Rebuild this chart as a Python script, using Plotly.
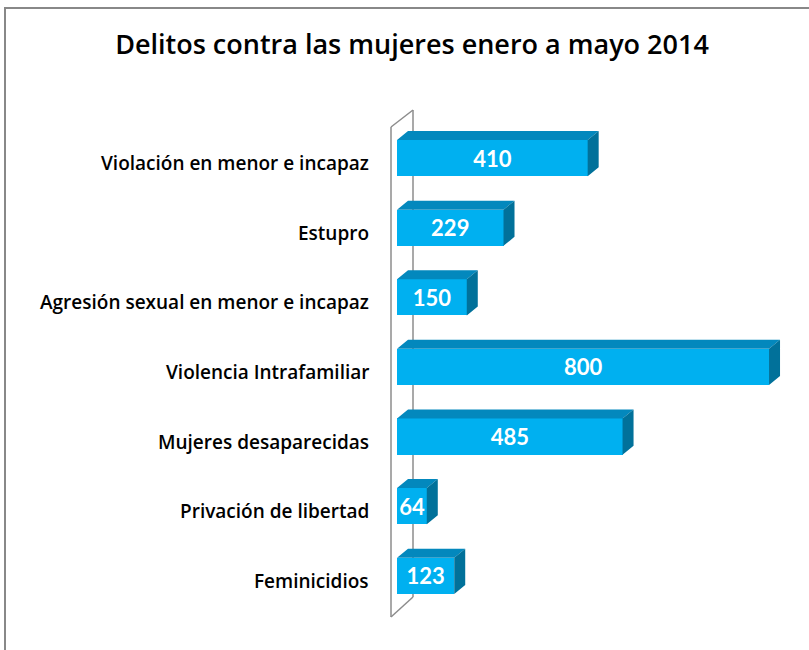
import plotly.graph_objects as go

# ---- data ----
categories = ["Feminicidios", "Privación de libertad", "Mujeres desaparecidas",
              "Violencia Intrafamiliar", "Agresión sexual en menor e incapaz",
              "Estupro", "Violación en menor e incapaz"]
values = [123, 64, 485, 800, 150, 229, 410]
title_text = "Delitos contra las mujeres enero a mayo 2014"

# ---- layout geometry ----
W, H = 809, 650
ML, MR, MT, MB = 376, 9, 92, 22
PW, PH = W - ML - MR, H - MT - MB
XR = [-45.2, 866.6]
YR = [-0.75, 6.95]
ux = PW / (XR[1] - XR[0])          # px per x unit
uy = PH / (YR[1] - YR[0])          # px per y unit

def px2x(px):
    return XR[0] + (px - ML) / ux

def py2y(py):
    return YR[1] - (py - MT) / uy

def px2paper(px):
    return (px - ML) / PW

def py2paper(py):
    return (H - MB - py) / PH

BAR_W = 0.52
DX = 11 / ux     # bar depth in data units
DY = 9 / uy
TEXT_DROP = 3 / uy

FRONT = "#00B0F0"
TOP = "#0388BD"
SIDE = "#01719A"
FONT = "Lato"
LABEL_FONT = "Open Sans"

ypos = list(range(len(categories)))

fig = go.Figure()

# front faces
fig.add_trace(go.Bar(x=values, y=ypos, orientation="h", width=BAR_W,
                     marker=dict(color=FRONT, line=dict(width=0)),
                     hoverinfo="skip", showlegend=False))

# top faces
tx, ty = [], []
for v, y in zip(values, ypos):
    t = y + BAR_W / 2
    tx += [0, v, v + DX, DX, 0, None]
    ty += [t, t, t + DY, t + DY, t, None]
fig.add_trace(go.Scatter(x=tx, y=ty, mode="lines", fill="toself",
                         fillcolor=TOP, line=dict(width=0, color=TOP),
                         hoverinfo="skip", showlegend=False))

# side faces
sx, sy = [], []
for v, y in zip(values, ypos):
    b, t = y - BAR_W / 2, y + BAR_W / 2
    sx += [v, v + DX, v + DX, v, v, None]
    sy += [b, b + DY, t + DY, t, b, None]
fig.add_trace(go.Scatter(x=sx, y=sy, mode="lines", fill="toself",
                         fillcolor=SIDE, line=dict(width=0, color=SIDE),
                         hoverinfo="skip", showlegend=False))

# value labels
fig.add_trace(go.Scatter(x=[v / 2 for v in values], y=[y - TEXT_DROP for y in ypos],
                         mode="text",
                         text=[str(v) for v in values],
                         textposition="middle center",
                         textfont=dict(family=FONT, size=22, color="white", weight="bold"),
                         hoverinfo="skip", showlegend=False))

# category labels
annotations = []
for c, y in zip(categories, ypos):
    annotations.append(dict(x=px2paper(371), xref="paper", xanchor="right",
                            y=y, yref="y", yanchor="middle", yshift=-5,
                            text=c, showarrow=False,
                            font=dict(family=LABEL_FONT, size=19, color="black", weight=600)))

# wall (thin 3D back plane)
wall_color = "#8C8C8C"
shapes = []
wall_lines = [
    (391, 127, 391, 617),
    (413, 110, 413, 597),
    (391, 127, 413, 110),
    (391, 617, 413, 597),
]
for x0, y0, x1, y1 in wall_lines:
    shapes.append(dict(type="line", xref="x", yref="y",
                       x0=px2x(x0), y0=py2y(y0), x1=px2x(x1), y1=py2y(y1),
                       line=dict(color=wall_color, width=1.5), layer="below"))

# outer frame
shapes.append(dict(type="rect", xref="paper", yref="paper",
                   x0=px2paper(5), x1=px2paper(830), y0=py2paper(670), y1=py2paper(8),
                   line=dict(color="#888888", width=2), layer="below"))

fig.update_layout(
    width=W, height=H,
    margin=dict(l=ML, r=MR, t=MT, b=MB),
    paper_bgcolor="white", plot_bgcolor="white",
    title=dict(text=title_text, x=px2paper(412), xref="paper", xanchor="center",
               y=1 - 45 / H, yref="container", yanchor="middle",
               font=dict(family=LABEL_FONT, size=27, color="black", weight=600)),
    xaxis=dict(range=XR, visible=False, fixedrange=True),
    yaxis=dict(range=YR, visible=False, fixedrange=True),
    annotations=annotations,
    shapes=shapes,
    bargap=0,
    showlegend=False,
)

fig.write_html("out.html")
